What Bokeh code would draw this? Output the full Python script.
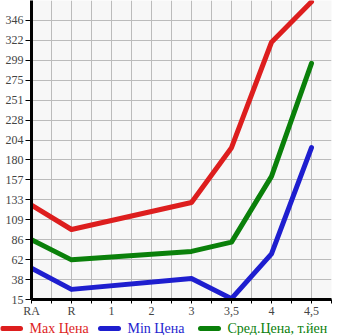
from bokeh.plotting import figure
from bokeh.models import FixedTicker, Range1d
from bokeh.layouts import column
from bokeh.core.properties import value
from bokeh.embed import file_html
from bokeh.resources import INLINE

categories = ["RA", "R", "1", "2", "3", "3,5", "4", "4,5"]
max_price = [127, 98, None, None, 130, 195, 320, 368]
min_price = [52, 27, None, None, 40, 16, 69, 195]
avg_price = [86, 62, None, None, 72, 83, 161, 295]
y_tick_labels = ["15", "38", "62", "86", "109", "133", "157", "180", "204",
                 "228", "251", "275", "299", "322", "346"]
series_names = ["Max Цена", "Min Цена", "Сред.Цена, т.йен"]
y_min = 15.0
y_step = 23.633

RED = "#DD1E1E"
BLUE = "#1E1ECF"
GREEN = "#0A800A"
FONT = "Liberation Serif"


def pts(vals):
    xs = [i for i, v in enumerate(vals) if v is not None]
    ys = [v for v in vals if v is not None]
    return xs, ys


p = figure(width=345, height=320, output_backend="svg", toolbar_location=None,
           min_border_left=31, min_border_right=14, min_border_top=0, min_border_bottom=10)
p.frame_align = False
p.x_range = Range1d(0, len(categories) - 0.5)
y_ticks = [y_min + i * y_step for i in range(len(y_tick_labels))]
p.y_range = Range1d(y_min, y_min + len(y_tick_labels) * y_step)

p.background_fill_color = "#F7F7F7"
p.border_fill_color = "white"
p.outline_line_color = None

# x axis
p.xaxis.ticker = FixedTicker(ticks=list(range(len(categories))),
                             minor_ticks=[i + 0.5 for i in range(len(categories))])
p.xaxis.major_label_overrides = {i: c for i, c in enumerate(categories)}
p.xaxis.axis_line_width = 3
p.xaxis.axis_line_color = "black"
p.xaxis.major_tick_in = 0
p.xaxis.major_tick_out = 4
p.xaxis.minor_tick_in = 0
p.xaxis.minor_tick_out = 4
p.xaxis.major_label_text_font = FONT
p.xaxis.major_label_text_font_size = "12px"
p.xaxis.major_label_standoff = 0

# y axis
p.yaxis.ticker = FixedTicker(ticks=y_ticks, minor_ticks=[])
p.yaxis.major_label_overrides = {t: l for t, l in zip(y_ticks, y_tick_labels)}
p.yaxis.axis_line_width = 3
p.yaxis.axis_line_color = "black"
p.yaxis.major_tick_in = 0
p.yaxis.major_tick_out = 6
p.yaxis.major_label_text_font = FONT
p.yaxis.major_label_text_font_size = "12px"
p.yaxis.major_label_standoff = 2
p.yaxis.major_label_text_baseline = "alphabetic"

# grid
p.xgrid.grid_line_color = "#BBBBBB"
p.xgrid.minor_grid_line_color = "#BBBBBB"
p.ygrid.grid_line_color = "#BBBBBB"

colors = [RED, BLUE, GREEN]
for vals, col in zip([max_price, min_price, avg_price], colors):
    xs, ys = pts(vals)
    p.line(xs, ys, line_color=col, line_width=5, line_cap="round", line_join="round")

# legend strip (drawn in its own small figure, screen-like units)
lg = figure(width=345, height=15, output_backend="svg", toolbar_location=None,
            min_border=0, x_axis_location=None, y_axis_location=None,
            x_range=Range1d(0, 345), y_range=Range1d(0, 15))
lg.frame_align = False
lg.grid.visible = False
lg.outline_line_color = None
lg.background_fill_color = "white"
leg_x0 = [2, 100, 200]
for name, col, x0 in zip(series_names, colors, leg_x0):
    lg.line([x0, x0 + 18], [7, 7], line_color=col, line_width=5, line_cap="round")
    lg.text([x0 + 27], [7], text=[name], text_color=col, text_font=value(FONT),
            text_font_size="14px", text_baseline="middle", text_align="left")

layout = column(p, lg, spacing=0)
open("out.html", "w").write(file_html(layout, INLINE))
